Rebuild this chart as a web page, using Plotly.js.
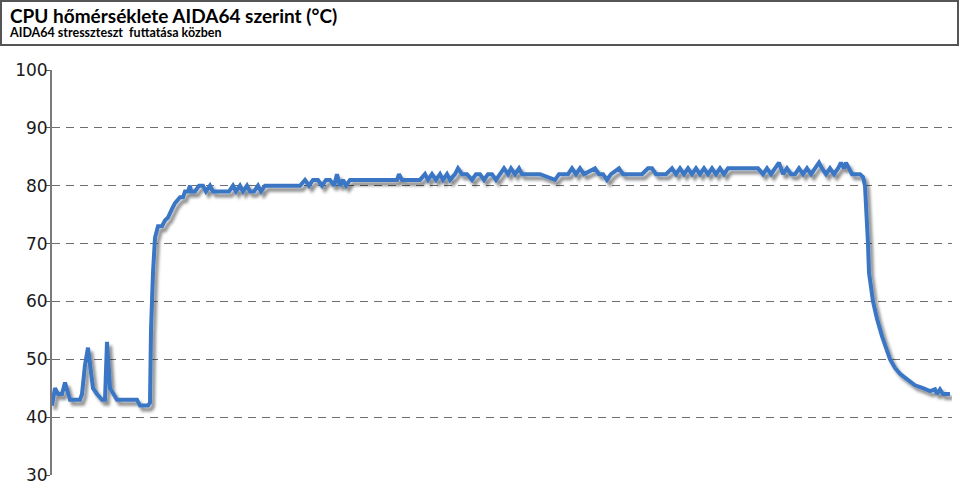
<!DOCTYPE html>
<html>
<head>
<meta charset="utf-8">
<script src="https://cdn.plot.ly/plotly-3.0.1.min.js"></script>
<style>
html,body{margin:0;padding:0;background:#fff;}
#chart{width:960px;height:500px;}
.scatterlayer .js-line{filter:url(#lineshadow);}
</style>
</head>
<body>
<svg width="0" height="0" style="position:absolute">
  <defs>
    <filter id="lineshadow" x="-5%" y="-20%" width="110%" height="140%">
      <feGaussianBlur in="SourceAlpha" stdDeviation="1.6" result="blur"/>
      <feOffset in="blur" dx="3" dy="4" result="off"/>
      <feFlood flood-color="#000" flood-opacity="0.45" result="col"/>
      <feComposite in="col" in2="off" operator="in" result="shadow"/>
      <feMerge><feMergeNode in="shadow"/><feMergeNode in="SourceGraphic"/></feMerge>
    </filter>
  </defs>
</svg>
<div id="chart"></div>
<script>
// time index (samples) and CPU temperature (°C), rows of 10 aligned pairs
const time = [
  0,3,6,10,13,16,18,23,28,30,
  33,36,38,41,45,50,53,55,58,61,
  65,73,85,88,96,98,99,101,103,106,
  110,113,116,120,123,128,131,133,136,138,
  139,143,147,151,154,158,161,165,169,173,
  177,181,184,188,191,195,198,202,206,209,
  213,228,248,253,257,261,266,270,274,278,
  282,285,288,291,294,298,308,345,347,350,
  368,373,376,380,384,388,391,395,398,403,
  406,410,415,420,424,428,432,436,440,444,
  448,452,456,459,463,467,470,475,488,503,
  507,516,520,524,528,532,543,547,551,555,
  559,567,571,590,596,600,604,614,620,624,
  628,632,636,640,644,648,652,656,660,664,
  668,672,676,706,711,715,719,723,727,731,
  735,739,743,747,751,755,759,763,767,770,
  774,778,782,786,789,792,794,797,800,808,
  811,813,815,816,817,821,825,830,838,843,
  848,855,863,871,878,883,885,888,891,898
];
const temp = [
  42,45,44,44,46,44,43,43,43,44,
  49,52,49,45,44,43,43,53,45,44,
  43,43,43,42,42,42.5,55,65,71,73,
  73,74,74.5,76,77,78,78,79,79,80,
  79,79,80,80,79,80,79,79,79,79,
  79,80,79,80,79,80,79,79,80,79,
  80,80,80,81,80,81,81,80,81,81,
  80,82,80,81,80,81,81,81,82,81,
  81,82,81,82,81,82,81,82,81,82,
  83,82,82,81,82,82,81,82,82,81,
  82,83,82,83,82,83,82,82,82,81,
  82,82,83,82,83,82,83,82,82,81,
  82,83,82,82,83,83,82,82,83,82,
  83,82,83,82,83,82,83,82,83,82,
  83,82,83,83,82,83,82,83,84,82,
  83,82,82,83,82,83,82,83,84,83,
  82,83,82,83,84,83,84,83,82,82,
  81.5,80,75,70,65,60,57,54,50,48.5,
  47.5,46.5,45.5,45,44.5,44.8,44,44.8,44,44
];
const yTicks = [30,40,50,60,70,80,90,100];
const titleText = 'CPU hőmérséklete AIDA64 szerint (°C)';
const subtitleText = 'AIDA64 stresszteszt  futtatása közben';

const trace = {
  x: time, y: temp, type: 'scatter', mode: 'lines',
  line: {color: '#3a76c4', width: 4, shape: 'linear'},
  hoverinfo: 'y'
};

const layout = {
  width: 960, height: 500,
  margin: {l: 52, r: 8, t: 70, b: 25},
  paper_bgcolor: '#fff', plot_bgcolor: '#fff',
  showlegend: false,
  title: {
    text: '<b>' + titleText + '</b>',
    font: {family: 'Lato, "Open Sans", sans-serif', size: 19, color: '#000'},
    xref: 'container', yref: 'container',
    x: 10/960, xanchor: 'left', y: 1 - 16/500, yanchor: 'middle'
  },
  annotations: [{
    text: '<b>' + subtitleText + '</b>',
    xref: 'paper', yref: 'paper', x: -45/900, y: 1 + (70-33)/405,
    xanchor: 'left', yanchor: 'middle', showarrow: false,
    font: {family: 'Lato, "Open Sans", sans-serif', size: 12.5, color: '#000'}
  }],
  shapes: [{
    type: 'rect', xref: 'paper', yref: 'paper',
    x0: -51/900, x1: 906/900, y0: 1 + (70-45)/405, y1: 1 + (70-1)/405,
    line: {color: '#555', width: 2}, fillcolor: 'rgba(0,0,0,0)'
  }],
  xaxis: {
    range: [0, 900], showgrid: false, zeroline: false, showline: false,
    showticklabels: false, ticks: '', fixedrange: true
  },
  yaxis: {
    range: [30, 100], tickvals: yTicks, ticktext: yTicks.map(String),
    showgrid: true, gridcolor: '#6e6e6e', griddash: '8px,6px', gridwidth: 1,
    zeroline: false, showline: true, linecolor: '#7a7a7a', linewidth: 2,
    ticks: 'outside', ticklen: 5, tickwidth: 1, tickcolor: '#555',
    ticklabelstandoff: -6,
    tickfont: {family: '"DejaVu Sans", sans-serif', size: 17, color: '#1a1a1a'},
    fixedrange: true
  }
};

Plotly.newPlot('chart', [trace], layout, {displayModeBar: false, staticPlot: true});
</script>
</body>
</html>
